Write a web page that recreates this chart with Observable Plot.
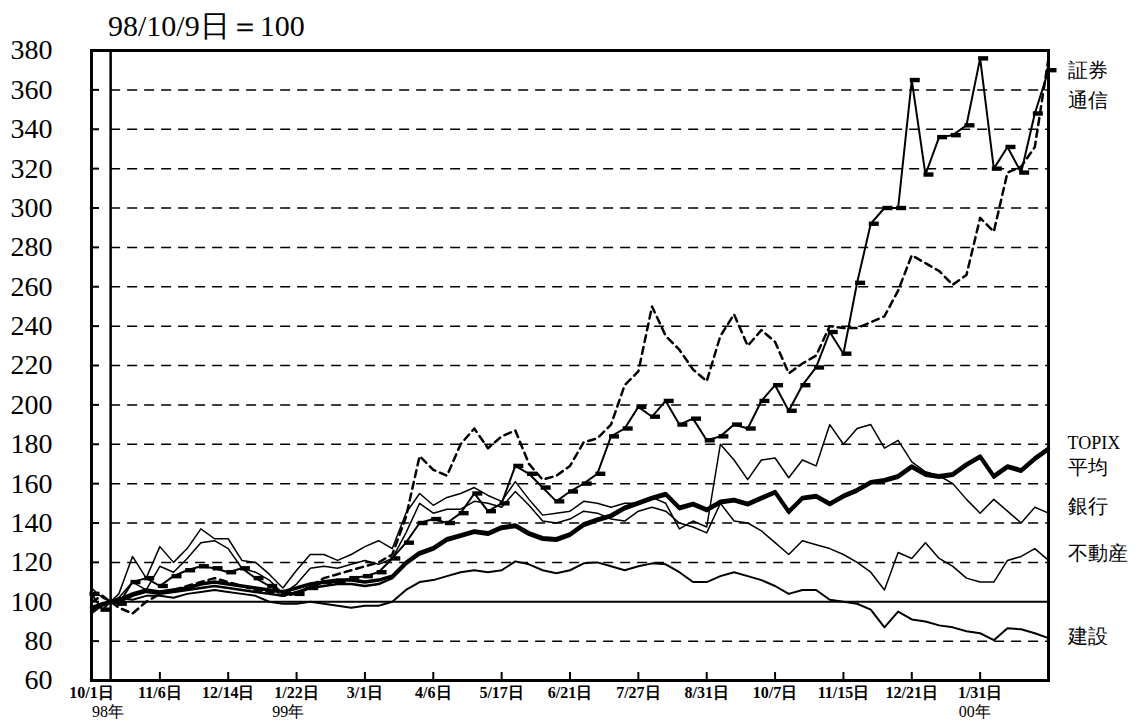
<!DOCTYPE html>
<html><head><meta charset="utf-8">
<script src="https://cdn.jsdelivr.net/npm/d3@7"></script>
<script src="https://cdn.jsdelivr.net/npm/@observablehq/plot@0.6"></script>
<style>
body{margin:0;background:#fff;}
#wrap{position:relative;width:1142px;height:725px;}
#title{position:absolute;left:108px;top:11px;font-family:"Liberation Serif","DejaVu Serif","Times New Roman",serif;font-size:30px;line-height:1;color:#000;white-space:nowrap;}
</style></head><body>
<div id="wrap"><div id="title">98/10/9日＝100</div><div id="chart"></div></div>
<script>
// trading-day index since 98/10/1
const days = [0,4,7,10,15,20,25,30,35,40,45,50,55,60,65,70,75,80,85,90,95,100,105,110,115,120,125,130,135,140,145,150,155,160,165,170,175,180,185,190,195,200,205,210,215,220,225,230,235,240,245,250,255,260,265,270,275,280,285,290,295,300,305,310,315,320,325,330,335,340,345,350];
const baseDay = 7; // 98/10/9 = 100

const sec    = [104,96,100,99,110,112,108,113,116,118,117,115,117,112,108,105,104,107,110,110,112,113,115,122,130,140,142,140,145,155,146,150,169,165,158,151,156,160,165,184,188,199,194,202,190,193,182,184,190,188,202,210,197,210,219,237,226,262,292,300,300,365,317,336,337,342,376,320,331,318,348,370];
const tel    = [100,103,100,97,94,100,104,106,108,110,112,110,108,106,105,103,104,108,112,114,116,118,120,124,143,174,167,164,180,188,178,184,187,170,162,164,169,181,183,190,210,217,250,235,228,218,212,235,246,230,238,232,216,221,225,240,239,239,242,245,258,276,272,268,261,266,295,288,318,321,331,376];
const topix  = [97,99,100,101,104,106,105,106,107,109,110,109,108,107,106,105,107,109,110,111,111,110,111,113,120,125,127.5,132,134,136,135,138,139,135,132.5,132,134.5,139.5,142,144,148,150.5,153,155,148,150,147,151,152,150,153,156,146,153,154,150,154,157,161,162,164,169,165,164,165,170,174,164,169,167,173,178];
const nikkei = [96,98,100,100,103,105,104,105,106,107,108,107,106,105,104,103,105,107,108,109,109,108,109,112,119,124,126.5,131,133,135,134,137,138,134,131.5,131,133.5,138.5,141,143,147,149.5,152,154,147,149,146,150,151,149,152,155,145,152,153,149,153,156,160,161,163,168,164,163,164,169,173,163,168,166,172,177];
const bank   = [107,102,100,104,123,112,128,120,127,137,132,132,121,120,114,107,116,124,124,121,124,128,131,127,145,155,149,153,155,158,154,151,161,152,144,145,146,151,150,148,150,150,153,150,137,141,138,180,172,162,172,173,163,172,169,190,180,188,190,178,182,171,166,164,160,152,145,152,146,140,148,145];
const realty = [94,98,100,102,110,106,118,115,122,130,131,127,117,115,111,104,109,117,118,117,119,121,119,122,135,150,145,147,147,151,150,148,156,149,141,140,142,146,145,142,141,146,148,146,140,138,135,150,141,140,136,130,124,131,129,127,124,120,115,106,125,122,130,122,118,112,110,110,121,123,127,121];
const constr = [95,99,100,102,101,103,103,102,104,105,106,105,104,103,100,99,99,100,99,98,97,98,98,100,106,110,111,113,115,116,115,116,120.5,119,116,114.5,116,119.5,120,118,116,118,119.5,119,115,110,110,113,115,113,111,108,104,106,106,101,100,99,96,87,95,91,90,88,87,85,84,80.5,86.5,86,84,81.5];

const seriesNames = ["証券","通信","TOPIX","平均","銀行","不動産","建設"];
const seriesValues = [sec, tel, topix, nikkei, bank, realty, constr];

const yTicks = [60,80,100,120,140,160,180,200,220,240,260,280,300,320,340,360,380];
const gridVals = [80,120,140,160,180,200,220,240,260,280,300,320,340,360];
const xTickDays = [0,25,50,75,100,125,150,175,200,225,250,275,300,325];
const xTickLabels = ["10/1日","11/6日","12/14日","1/22日","3/1日","4/6日","5/17日","6/21日","7/27日","8/31日","10/7日","11/15日","12/21日","1/31日"];
const yearDays = [6,72,323];
const yearLabels = ["98年","99年","00年"];
const endLabelValues = [370,354.6,180.4,168.2,148.2,124.5,82.3];

const rows = seriesNames.flatMap((name, k) => days.map((day, i) => ({name, day, value: seriesValues[k][i]})));
const of = name => rows.filter(r => r.name === name);

const styles = {
  "銀行":   {strokeWidth: 1.5},
  "不動産": {strokeWidth: 1.5},
  "建設":   {strokeWidth: 2},
  "通信":   {strokeWidth: 2.5, strokeDasharray: "7,5"},
  "平均":   {strokeWidth: 2.5},
  "TOPIX":  {strokeWidth: 3.5},
  "証券":   {strokeWidth: 2}
};
const drawOrder = ["銀行","不動産","建設","通信","平均","TOPIX","証券"];

const barSymbol = {draw(ctx) { ctx.moveTo(-2,-2.2); ctx.lineTo(8,-2.2); ctx.lineTo(8,2.2); ctx.lineTo(-2,2.2); ctx.closePath(); }};

const serif = '"Liberation Serif","DejaVu Serif","Times New Roman",serif';

const chart = Plot.plot({
  width: 1142, height: 725,
  marginLeft: 91, marginRight: 94, marginTop: 50, marginBottom: 45,
  x: {domain: [0, 350]},
  y: {domain: [60, 380]},
  style: {fontFamily: serif, background: "white", color: "black"},
  marks: [
    Plot.ruleY(gridVals, {x1: baseDay, x2: 350, stroke: "black", strokeWidth: 1.5, strokeDasharray: "10,7"}),
    Plot.ruleY([100], {x1: baseDay, x2: 350, stroke: "black", strokeWidth: 2}),
    Plot.ruleX([baseDay], {stroke: "black", strokeWidth: 2.5}),
    Plot.tickY(yTicks, {y: d => d, insetRight: 949, stroke: "black", strokeWidth: 2}),
    Plot.tickX(xTickDays, {x: d => d, insetTop: 622, stroke: "black", strokeWidth: 2}),
    ...drawOrder.map(name => Plot.lineY(of(name), {x: "day", y: "value", stroke: "black", strokeLinejoin: "round", ...styles[name]})),
    Plot.dot(of("証券"), {x: "day", y: "value", symbol: barSymbol, r: 4, fill: "black", stroke: null}),
    Plot.frame({stroke: "black", strokeWidth: 3}),
    Plot.axisY({ticks: yTicks, tickSize: 0, tickPadding: 39, fontSize: 28, label: null, fontFamily: serif}),
    Plot.axisX({ticks: xTickDays, tickSize: 0, tickPadding: 6, fontSize: 16, fontWeight: "bold", label: null, tickFormat: d => xTickLabels[xTickDays.indexOf(d)], fontFamily: serif}),
    Plot.text(yearLabels, {x: (d, i) => yearDays[i], text: d => d, frameAnchor: "bottom", dy: 25, lineAnchor: "top", fontSize: 16, fontFamily: serif}),
    Plot.text(seriesNames, {y: (d, i) => endLabelValues[i], text: d => d, frameAnchor: "right", dx: 19, textAnchor: "start", fontFamily: serif, fontSize: d => d === "TOPIX" ? 18 : 20})
  ]
});
document.getElementById("chart").appendChild(chart);
</script>
</body></html>
